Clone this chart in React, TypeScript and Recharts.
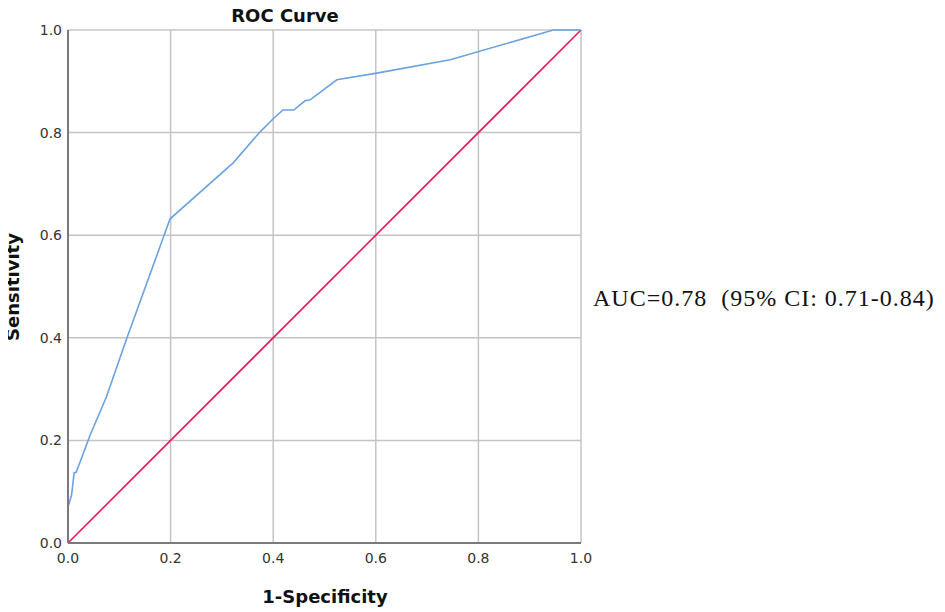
import React from 'react';
import { LineChart, Line, XAxis, YAxis, CartesianGrid } from 'recharts';

// values
const fpr = [0, 0, 0.007, 0.012, 0.016, 0.043, 0.075, 0.115, 0.199, 0.322, 0.374, 0.4, 0.419, 0.44, 0.462, 0.472, 0.524, 0.602, 0.745, 0.946, 1.0];
const tpr = [0, 0.07, 0.094, 0.137, 0.138, 0.21, 0.285, 0.4, 0.632, 0.741, 0.801, 0.827, 0.844, 0.844, 0.862, 0.864, 0.903, 0.916, 0.942, 1.0, 1.0];
const refX = [0, 1];
const refY = [0, 1];
const ticks = [0, 0.2, 0.4, 0.6, 0.8, 1.0];

const chartTitle = 'ROC Curve';
const xTitle = '1-Specificity';
const yTitle = 'Sensitivity';
const aucText = 'AUC=0.78\u00a0 (95% CI: 0.71-0.84)';

const rocData = fpr.map((x, i) => ({ x, y: tpr[i] }));
const refData = refX.map((x, i) => ({ x, y: refY[i] }));

const sans = '"DejaVu Sans", Verdana, sans-serif';
const tickStyle = { fill: '#333', fontSize: 14, fontFamily: sans };

const App: React.FC = () => {
  return (
    <div style={{ position: 'relative', width: 937, height: 604 }}>
      <LineChart width={937} height={604} margin={{ top: 22, right: 364, left: 0, bottom: 39 }}>
        <CartesianGrid stroke="#c4c4c4" strokeWidth={1.5} />
        <XAxis
          type="number"
          dataKey="x"
          domain={[0, 1]}
          ticks={ticks}
          tickFormatter={(v: number) => v.toFixed(1)}
          tick={tickStyle}
          tickLine={false}
          tickSize={8}
          tickMargin={2}
          axisLine={{ stroke: '#7a7a7a', strokeWidth: 2 }}
          height={30}
          allowDuplicatedCategory={false}
        />
        <YAxis
          type="number"
          dataKey="y"
          domain={[0, 1]}
          ticks={ticks}
          tickFormatter={(v: number) => v.toFixed(1)}
          tick={tickStyle}
          tickLine={false}
          tickSize={4}
          tickMargin={2}
          axisLine={{ stroke: '#7a7a7a', strokeWidth: 2 }}
          width={60}
        />
        <Line
          data={refData}
          dataKey="y"
          type="linear"
          stroke="#e3195a"
          strokeWidth={1.6}
          dot={false}
          isAnimationActive={false}
        />
        <Line
          data={rocData}
          dataKey="y"
          type="linear"
          stroke="#6aa3e0"
          strokeWidth={1.6}
          dot={false}
          isAnimationActive={false}
        />
      </LineChart>

      <div
        style={{
          position: 'absolute',
          left: 177,
          top: -1,
          width: 200,
          textAlign: 'center',
          fontFamily: sans,
          fontWeight: 'bold',
          fontSize: 18,
          lineHeight: 1,
          color: '#111',
        }}
      >
        {chartTitle}
      </div>
      <div
        style={{
          position: 'absolute',
          left: 217,
          top: 580,
          width: 200,
          textAlign: 'center',
          fontFamily: sans,
          fontWeight: 'bold',
          fontSize: 18,
          lineHeight: 1,
          color: '#111',
        }}
      >
        {xTitle}
      </div>
      <div
        style={{
          position: 'absolute',
          left: 5,
          top: 279,
          transform: 'translate(-50%, -50%) rotate(-90deg)',
          whiteSpace: 'nowrap',
          fontFamily: sans,
          fontWeight: 'bold',
          fontSize: 18,
          lineHeight: 1,
          color: '#111',
        }}
      >
        {yTitle}
      </div>
      <div
        style={{
          position: 'absolute',
          left: 585,
          top: 278,
          whiteSpace: 'nowrap',
          fontFamily: '"Liberation Serif", "Times New Roman", serif',
          fontSize: 24,
          letterSpacing: 1,
          lineHeight: 1,
          color: '#111',
        }}
      >
        {aucText}
      </div>
    </div>
  );
};

export default App;
